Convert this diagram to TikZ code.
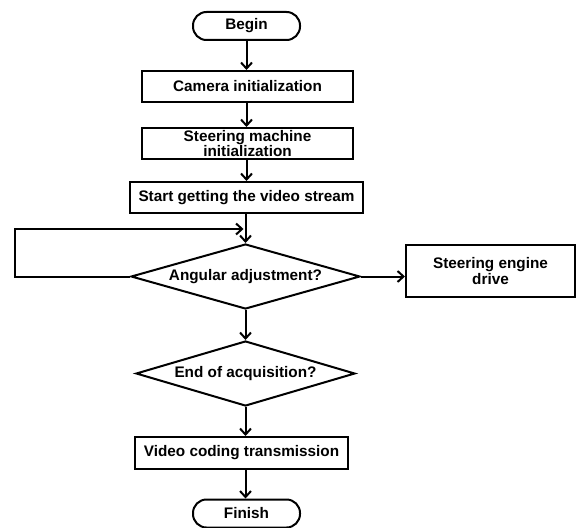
\documentclass[tikz,border=0pt]{standalone}
\usepackage{fontspec}
\setmainfont{Liberation Sans}
\usetikzlibrary{shapes.geometric,arrows.meta,calc}
\begin{document}
\begin{tikzpicture}[x=1pt,y=-1pt,
  every node/.style={font=\fontsize{15.3}{14}\selectfont\bfseries, line width=2pt, inner sep=0pt},
  box/.style={draw, rectangle, align=center},
  term/.style={draw, rectangle, rounded corners=13.5pt, minimum width=107pt, minimum height=28pt},
  dec/.style={draw, diamond, minimum height=65pt},
  arr/.style={line width=2pt, -{Straight Barb[length=6pt,width=11pt,line width=2pt]}},
  ln/.style={line width=2pt}]
\useasboundingbox (0,0) rectangle (577,527);
\node[term] (begin) at (246.5,26) {Begin};
\node[box, minimum width=211pt, minimum height=31pt] (cam) at (247.5,86.5) {Camera initialization};
\node[box, minimum width=211pt, minimum height=31pt] (steer) at (247.5,143.5) {Steering machine\\initialization};
\node[box, minimum width=233pt, minimum height=31pt] (start) at (246.5,197.5) {Start getting the video stream};
\node[dec, aspect=3.5, minimum width=229pt] (d1) at (245.5,276.5) {Angular adjustment?};
\node[box, minimum width=169pt, minimum height=52pt] (drive) at (490.5,271) {Steering engine\\drive};
\node[dec, aspect=3.37, minimum width=219pt] (d2) at (245.5,373.5) {End of acquisition?};
\node[box, minimum width=213pt, minimum height=32pt] (video) at (241.5,453) {Video coding transmission};
\node[term] (finish) at (246.5,513.5) {Finish};
\coordinate (lp) at (15,229);
\draw[arr] (begin.south) -- (begin.south |- cam.north);
\draw[arr] (begin.south |- cam.south) -- (begin.south |- steer.north);
\draw[arr] (begin.south |- steer.south) -- (begin.south |- start.north);
\draw[arr] (start.south -| d1.north) -- (d1.north);
\draw[arr] (d1.west) -| (lp) -- ($(d1.north |- lp)+(-2,0)$);
\draw[arr] (d1.east) -- (d1.east -| drive.west);
\draw[arr] (d1.south) -- (d2.north);
\draw[arr] (d2.south) -- (d2.south |- video.north);
\draw[arr] (d2.south |- video.south) -- (d2.south |- finish.north);
\end{tikzpicture}
\end{document}
